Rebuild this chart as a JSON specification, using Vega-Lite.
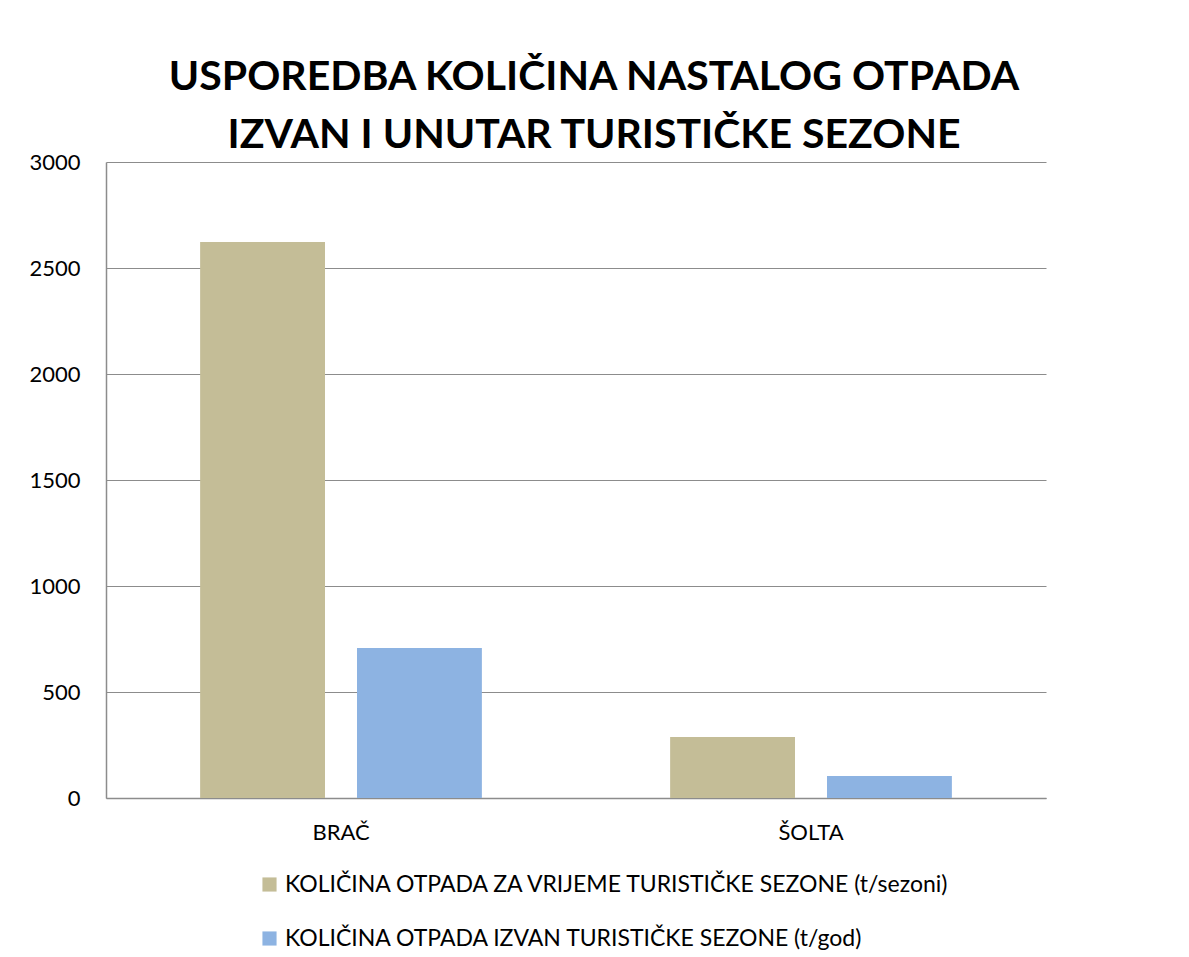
{
  "$schema": "https://vega.github.io/schema/vega-lite/v6.json",
  "width": 940,
  "height": 636,
  "autosize": {"type": "none"},
  "padding": {"left": 106, "top": 162, "right": 143, "bottom": 159},
  "background": "white",
  "title": {
    "text": ["USPOREDBA KOLIČINA NASTALOG OTPADA", "IZVAN I UNUTAR TURISTIČKE SEZONE"],
    "font": "Lato",
    "fontSize": 41,
    "fontWeight": "bold",
    "color": "black",
    "anchor": "middle",
    "dx": 18,
    "offset": -6,
    "lineHeight": 58
  },
  "data": {
    "values": [
      {"otok": "BRAČ", "serija": "KOLIČINA OTPADA ZA VRIJEME TURISTIČKE SEZONE  (t/sezoni)", "vrijednost": 2623},
      {"otok": "BRAČ", "serija": "KOLIČINA OTPADA IZVAN TURISTIČKE SEZONE (t/god)", "vrijednost": 708},
      {"otok": "ŠOLTA", "serija": "KOLIČINA OTPADA ZA VRIJEME TURISTIČKE SEZONE  (t/sezoni)", "vrijednost": 288},
      {"otok": "ŠOLTA", "serija": "KOLIČINA OTPADA IZVAN TURISTIČKE SEZONE (t/god)", "vrijednost": 104}
    ]
  },
  "mark": {"type": "bar"},
  "encoding": {
    "x": {
      "field": "otok",
      "type": "nominal",
      "sort": ["BRAČ", "ŠOLTA"],
      "scale": {"paddingInner": 0, "paddingOuter": 0},
      "axis": {
        "title": null,
        "labelAngle": 0,
        "ticks": false,
        "domainColor": "#8c8c8c",
        "domainWidth": 1.5,
        "labelFont": "Lato",
        "labelFontSize": 22,
        "labelColor": "black",
        "labelPadding": 24
      }
    },
    "xOffset": {
      "field": "serija",
      "type": "nominal",
      "sort": ["KOLIČINA OTPADA ZA VRIJEME TURISTIČKE SEZONE  (t/sezoni)", "KOLIČINA OTPADA IZVAN TURISTIČKE SEZONE (t/god)"],
      "scale": {"paddingInner": 0.204, "paddingOuter": 0.6}
    },
    "y": {
      "field": "vrijednost",
      "type": "quantitative",
      "scale": {"domain": [0, 3000], "nice": false},
      "axis": {
        "title": null,
        "values": [0, 500, 1000, 1500, 2000, 2500, 3000],
        "format": "d",
        "ticks": false,
        "grid": true,
        "gridColor": "#8c8c8c",
        "gridWidth": 1.2,
        "domainColor": "#8c8c8c",
        "domainWidth": 1.5,
        "labelFont": "Lato",
        "labelFontSize": 22,
        "labelColor": "black",
        "labelPadding": 26
      }
    },
    "color": {
      "field": "serija",
      "type": "nominal",
      "scale": {
        "domain": ["KOLIČINA OTPADA ZA VRIJEME TURISTIČKE SEZONE  (t/sezoni)", "KOLIČINA OTPADA IZVAN TURISTIČKE SEZONE (t/god)"],
        "range": ["#C4BD97", "#8DB3E2"]
      },
      "legend": {
        "title": null,
        "orient": "none",
        "legendX": 152,
        "legendY": 711,
        "direction": "vertical",
        "symbolType": "square",
        "symbolSize": 200,
        "symbolStrokeWidth": 0,
        "labelFont": "Lato",
        "labelFontSize": 23,
        "labelColor": "black",
        "labelLimit": 900,
        "labelOffset": 4,
        "rowPadding": 30
      }
    }
  },
  "config": {
    "view": {"stroke": null}
  }
}
